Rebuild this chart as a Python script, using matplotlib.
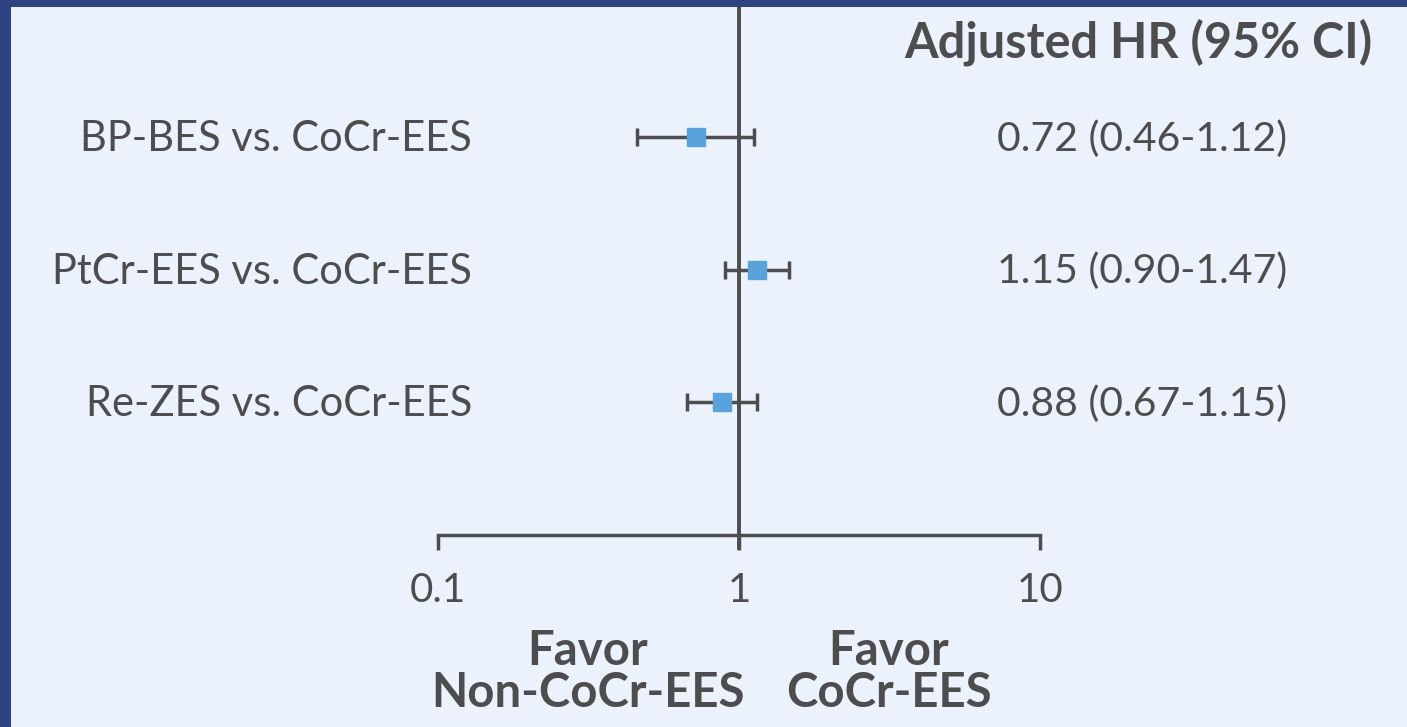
import numpy as np
import matplotlib
matplotlib.use("Agg")
import matplotlib.pyplot as plt
from matplotlib.patches import Rectangle

# --- data ---
comparisons = ["BP-BES vs. CoCr-EES", "PtCr-EES vs. CoCr-EES", "Re-ZES vs. CoCr-EES"]
hr = [0.72, 1.15, 0.88]
ci_low = [0.46, 0.90, 0.67]
ci_high = [1.12, 1.47, 1.15]
xticks = [0.1, 1, 10]
xtick_labels = ["0.1", "1", "10"]

NAVY = "#2E4381"
BG = "#EBF2FB"
INK = "#4D4D4F"
BLUE = "#5AA3DA"

plt.rcParams['font.family'] = ['Lato', 'DejaVu Sans']

fig = plt.figure(figsize=(14.07, 7.27), dpi=100, facecolor=NAVY)
fig.add_artist(Rectangle((11 / 1407, 0), 1, 1 - 7 / 727, transform=fig.transFigure,
                         facecolor=BG, edgecolor="none", zorder=-5))

ax = fig.add_axes([0, 0, 1, 1])
ax.set_facecolor("none")
ax.set_xscale("log")
dec = 301.0
ax.set_xlim(10 ** (-1 - 438 / dec), 10 ** (-1 + (1407 - 438) / dec))
step = 132.5
ax.set_ylim((727 - 137) / step, -137 / step)
ax.axis("off")

def px(x):
    # pixel column -> data x
    return 10 ** (-1 + (x - 438) / dec)

def py(y):
    # pixel row -> data y
    return (y - 137) / step

rows = np.arange(len(comparisons))
hr = np.array(hr)
err = np.vstack([hr - np.array(ci_low), np.array(ci_high) - hr])

LW = 2.5

# reference line and axis
ax.plot([1, 1], [py(7), 3.12], color=INK, lw=2.8, solid_capstyle="butt", zorder=2)
ax.plot([xticks[0], xticks[-1]], [3, 3], color=INK, lw=LW, solid_capstyle="projecting", zorder=2)
for t, lab in zip(xticks, xtick_labels):
    ax.plot([t, t], [3, 3.12], color=INK, lw=LW, solid_capstyle="butt", zorder=2)
    ax.text(t, py(591), lab, ha="center", va="center", fontsize=29, color=INK)

ax.errorbar(hr, rows, xerr=err, fmt="none", ecolor=INK, elinewidth=LW, capsize=6.5,
            capthick=LW, zorder=3)
ax.plot(hr, rows, ls="none", marker="s", ms=13, mfc=BLUE, mec=BLUE, zorder=4)

for i, name in enumerate(comparisons):
    ax.text(px(472), py(139) + i, name, ha="right", va="center", fontsize=30, color=INK)
    ax.text(px(1287), py(139) + i, f"{hr[i]:.2f} ({ci_low[i]:.2f}-{ci_high[i]:.2f})",
            ha="right", va="center", fontsize=29.5, color=INK)

ax.text(px(1372), py(42), "Adjusted HR (95% CI)",
        ha="right", va="center", fontsize=35, fontweight="bold", color=INK)

ax.text(px(588), py(672), "Favor\nNon-CoCr-EES",
        ha="center", va="center", fontsize=34, fontweight="bold", color=INK, linespacing=0.95)
ax.text(px(889), py(672), "Favor\nCoCr-EES",
        ha="center", va="center", fontsize=34, fontweight="bold", color=INK, linespacing=0.95)

fig.savefig("out.png", dpi=100, facecolor=NAVY)
